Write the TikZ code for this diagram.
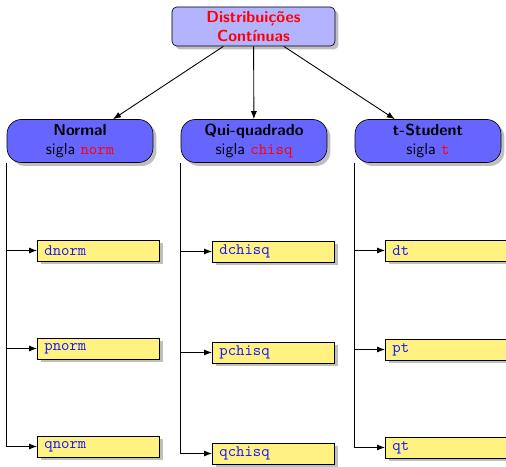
\documentclass[tikz,border=0pt]{standalone}
\usetikzlibrary{shapes.geometric, arrows.meta, shadows}
\definecolor{root-blue}{RGB}{179,179,255}
\definecolor{family-blue}{RGB}{102,102,255}
\definecolor{func-yellow}{RGB}{255,242,128}
\definecolor{func-text}{RGB}{25,25,255}
\newcommand{\sigla}[1]{\texttt{\textcolor{red}{#1}}}
\tikzset{
  rootbox/.style={draw, fill=root-blue, rounded corners=3pt, drop shadow,
    minimum width=101.9pt, minimum height=24.4pt, inner sep=1pt,
    align=center, text=red, font=\sffamily\bfseries},
  familybox/.style={draw, fill=family-blue, rounded corners=9pt, drop shadow,
    minimum width=91.2pt, minimum height=26.9pt, inner sep=1pt,
    align=center, font=\sffamily},
  funcbox/.style={draw, fill=func-yellow, drop shadow, anchor=west,
    text width=67.5pt, minimum height=13.1pt, inner xsep=4.4pt, inner ysep=1pt,
    align=left, text=func-text, font=\ttfamily},
  link/.style={-{Latex[length=5pt,width=3.8pt]}, line width=0.55pt, black}
}
\begin{document}
\begin{tikzpicture}[x=0.625pt, y=-0.625pt]%Distribuicoes continuas
\useasboundingbox (0,0) rectangle (506,467);
% raiz
\node [rootbox] (dist) at (253.5,26.5) {Distribuições\\Contínuas};
% familias
\node [familybox] (normal) at (80,141) {\textbf{Normal}\\sigla \sigla{norm}};
\node [familybox] (chisq) at (254,141) {\textbf{Qui-quadrado}\\sigla \sigla{chisq}};
\node [familybox] (student) at (428,141) {\textbf{t-Student}\\sigla \sigla{t}};
\draw [link] (dist) -- (normal);
\draw [link] (dist) -- (chisq);
\draw [link] (dist) -- (student);
% funcoes da normal
\node [funcbox] (dnorm) at (37,250.5) {dnorm};
\node [funcbox] (pnorm) at (37,348.5) {pnorm};
\node [funcbox] (qnorm) at (37,446.5) {qnorm};
\draw [link] (normal.south west) |- (dnorm.west);
\draw [link] (normal.south west) |- (pnorm.west);
\draw [link] (normal.south west) |- (qnorm.west);
% funcoes da qui-quadrado
\node [funcbox] (dchisq) at (212,251.5) {dchisq};
\node [funcbox] (pchisq) at (212,352.5) {pchisq};
\node [funcbox] (qchisq) at (212,453.5) {qchisq};
\draw [link] (chisq.south west) |- (dchisq.west);
\draw [link] (chisq.south west) |- (pchisq.west);
\draw [link] (chisq.south west) |- (qchisq.west);
% funcoes da t
\node [funcbox] (dt) at (385,250.5) {dt};
\node [funcbox] (pt) at (385,349.5) {pt};
\node [funcbox] (qt) at (385,447.5) {qt};
\draw [link] (student.south west) |- (dt.west);
\draw [link] (student.south west) |- (pt.west);
\draw [link] (student.south west) |- (qt.west);
\end{tikzpicture}
\end{document}
